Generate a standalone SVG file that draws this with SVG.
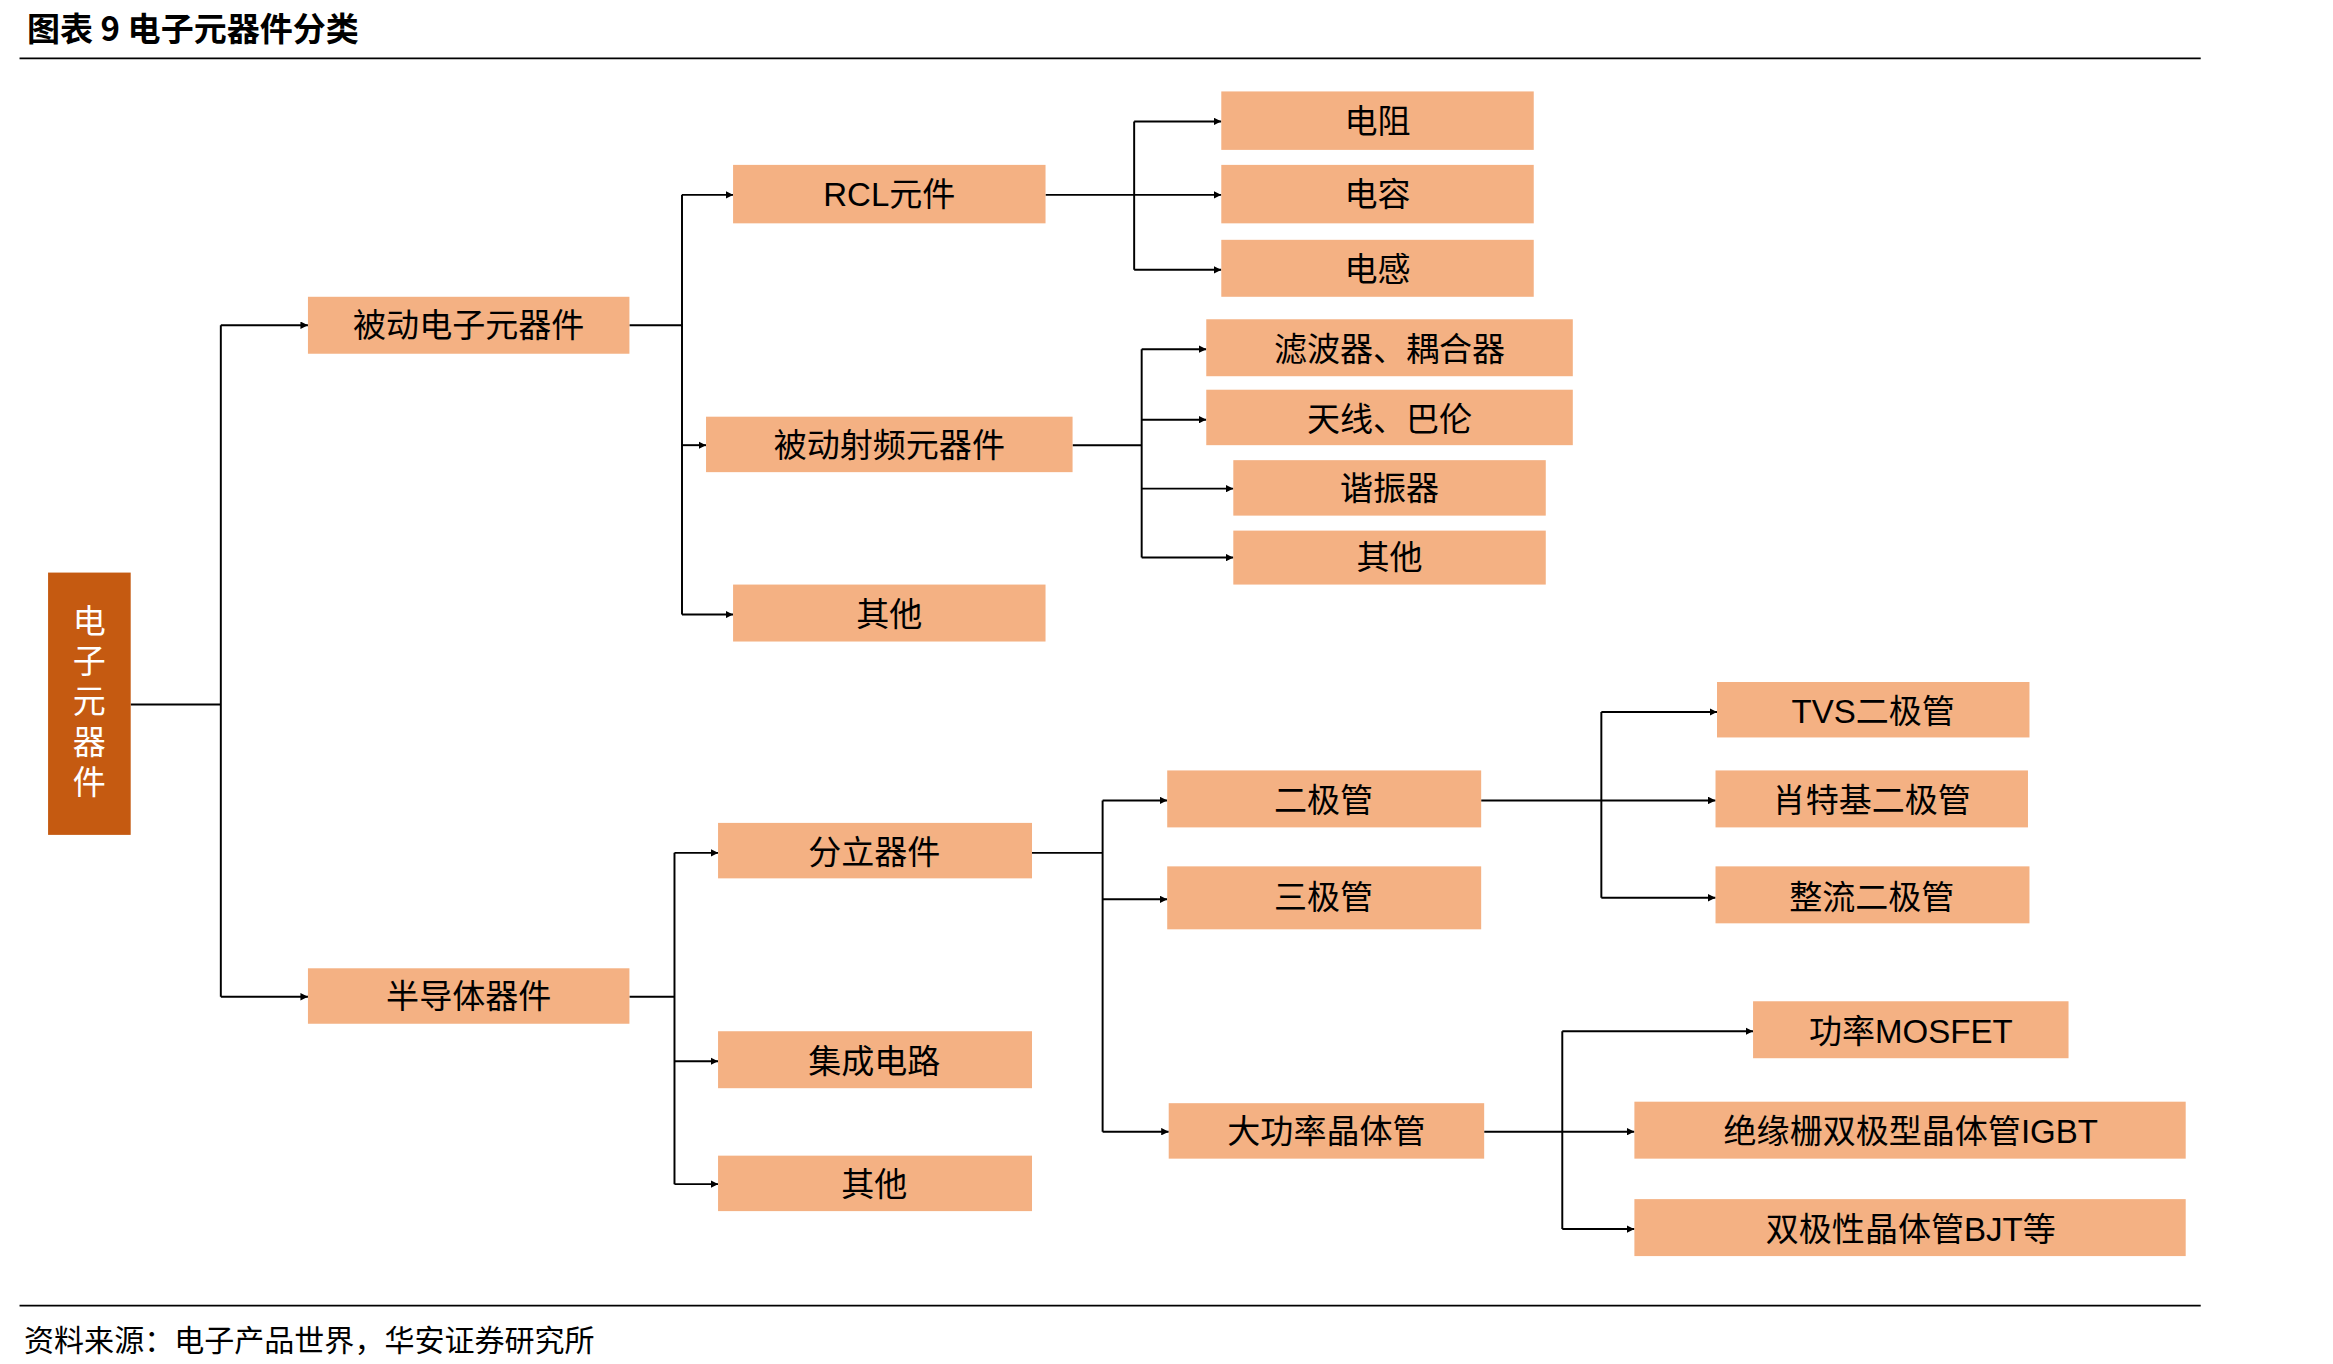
<svg xmlns="http://www.w3.org/2000/svg" width="2333" height="1364" viewBox="0 0 2333 1364">
<style>
.b{fill:#F4B183}
.t{font-family:"Liberation Sans","Noto Sans CJK SC",sans-serif;font-size:22px;fill:#000;text-anchor:middle;dominant-baseline:central}
.c{fill:none;stroke:#000;stroke-width:1.3}
</style>
<defs><marker id="a" viewBox="0 0 10 10" refX="10" refY="5" markerWidth="5" markerHeight="5" orient="auto" markerUnits="userSpaceOnUse"><path d="M0,0L10,5L0,10z" fill="#000"/></marker></defs>
<rect width="2333" height="1364" fill="#fff"/>
<g transform="scale(1.5022,1.4989)">
<text x="18" y="18" style="font-family:'Noto Sans CJK SC',sans-serif;font-size:22px;font-weight:bold" dominant-baseline="central">图表 9 电子元器件分类</text>
<line x1="13" y1="39" x2="1465" y2="39" stroke="#000" stroke-width="1.2"/>
<line x1="13" y1="871" x2="1465" y2="871" stroke="#000" stroke-width="1.2"/>
<text x="16" y="893" style="font-family:'Noto Sans CJK SC',sans-serif;font-size:20px" dominant-baseline="central">资料来源：电子产品世界，华安证券研究所</text>
<g id="connectors">
<path class="c" d="M87,470H147M147,217V665"/>
<path class="c" d="M147,217H205" marker-end="url(#a)"/><path class="c" d="M147,665H205" marker-end="url(#a)"/>
<path class="c" d="M419,217H454M454,130V410"/>
<path class="c" d="M454,130H488" marker-end="url(#a)"/><path class="c" d="M454,297H470" marker-end="url(#a)"/><path class="c" d="M454,410H488" marker-end="url(#a)"/>
<path class="c" d="M696,130H755M755,81V180"/>
<path class="c" d="M755,81H813" marker-end="url(#a)"/><path class="c" d="M755,130H813" marker-end="url(#a)"/><path class="c" d="M755,180H813" marker-end="url(#a)"/>
<path class="c" d="M714,297H760M760,233V372" stroke-width="2"/>
<path class="c" d="M760,233H803" marker-end="url(#a)"/><path class="c" d="M760,280H803" marker-end="url(#a)"/><path class="c" d="M760,326H821" marker-end="url(#a)"/><path class="c" d="M760,372H821" marker-end="url(#a)"/>
<path class="c" d="M419,665H449M449,569V790"/>
<path class="c" d="M449,569H478" marker-end="url(#a)"/><path class="c" d="M449,708H478" marker-end="url(#a)"/><path class="c" d="M449,790H478" marker-end="url(#a)"/>
<path class="c" d="M687,569H734M734,534V755"/>
<path class="c" d="M734,534H777" marker-end="url(#a)"/><path class="c" d="M734,600H777" marker-end="url(#a)"/><path class="c" d="M734,755H778" marker-end="url(#a)"/>
<path class="c" d="M986,534H1066M1066,475V599"/>
<path class="c" d="M1066,475H1143" marker-end="url(#a)"/><path class="c" d="M1066,534H1142" marker-end="url(#a)"/><path class="c" d="M1066,599H1142" marker-end="url(#a)"/>
<path class="c" d="M988,755H1040M1040,688V820"/>
<path class="c" d="M1040,688H1167" marker-end="url(#a)"/><path class="c" d="M1040,755H1088" marker-end="url(#a)"/><path class="c" d="M1040,820H1088" marker-end="url(#a)"/>
</g>
<g id="root"><rect x="32" y="382" width="55" height="175" fill="#C55A11"/>
<text class="t" style="fill:#fff"><tspan x="59.5" y="414">电</tspan><tspan x="59.5" y="441">子</tspan><tspan x="59.5" y="468">元</tspan><tspan x="59.5" y="495">器</tspan><tspan x="59.5" y="522">件</tspan></text></g>
<g id="n1"><rect class="b" x="205" y="198" width="214" height="38"/><text class="t" x="312" y="217">被动电子元器件</text></g>
<g id="n2"><rect class="b" x="205" y="646" width="214" height="37"/><text class="t" x="312" y="665">半导体器件</text></g>
<g id="n3"><rect class="b" x="488" y="110" width="208" height="39"/><text class="t" x="592" y="130">RCL元件</text></g>
<g id="n4"><rect class="b" x="470" y="278" width="244" height="37"/><text class="t" x="592" y="297">被动射频元器件</text></g>
<g id="n5"><rect class="b" x="488" y="390" width="208" height="38"/><text class="t" x="592" y="410">其他</text></g>
<g id="n6"><rect class="b" x="478" y="549" width="209" height="37"/><text class="t" x="582" y="569">分立器件</text></g>
<g id="n7"><rect class="b" x="478" y="688" width="209" height="38"/><text class="t" x="582" y="708">集成电路</text></g>
<g id="n8"><rect class="b" x="478" y="771" width="209" height="37"/><text class="t" x="582" y="790">其他</text></g>
<g id="n9"><rect class="b" x="813" y="61" width="208" height="39"/><text class="t" x="917" y="81">电阻</text></g>
<g id="n10"><rect class="b" x="813" y="110" width="208" height="39"/><text class="t" x="917" y="130">电容</text></g>
<g id="n11"><rect class="b" x="813" y="160" width="208" height="38"/><text class="t" x="917" y="180">电感</text></g>
<g id="n12"><rect class="b" x="803" y="213" width="244" height="38"/><text class="t" x="925" y="233">滤波器、耦合器</text></g>
<g id="n13"><rect class="b" x="803" y="260" width="244" height="37"/><text class="t" x="925" y="280">天线、巴伦</text></g>
<g id="n14"><rect class="b" x="821" y="307" width="208" height="37"/><text class="t" x="925" y="326">谐振器</text></g>
<g id="n15"><rect class="b" x="821" y="354" width="208" height="36"/><text class="t" x="925" y="372">其他</text></g>
<g id="n16"><rect class="b" x="777" y="514" width="209" height="38"/><text class="t" x="881" y="534">二极管</text></g>
<g id="n17"><rect class="b" x="777" y="578" width="209" height="42"/><text class="t" x="881" y="599">三极管</text></g>
<g id="n18"><rect class="b" x="778" y="736" width="210" height="37"/><text class="t" x="883" y="755">大功率晶体管</text></g>
<g id="n19"><rect class="b" x="1143" y="455" width="208" height="37"/><text class="t" x="1247" y="475">TVS二极管</text></g>
<g id="n20"><rect class="b" x="1142" y="514" width="208" height="38"/><text class="t" x="1246" y="534">肖特基二极管</text></g>
<g id="n21"><rect class="b" x="1142" y="578" width="209" height="38"/><text class="t" x="1246" y="599">整流二极管</text></g>
<g id="n22"><rect class="b" x="1167" y="668" width="210" height="38"/><text class="t" x="1272" y="688">功率MOSFET</text></g>
<g id="n23"><rect class="b" x="1088" y="735" width="367" height="38"/><text class="t" x="1272" y="755">绝缘栅双极型晶体管IGBT</text></g>
<g id="n24"><rect class="b" x="1088" y="800" width="367" height="38"/><text class="t" x="1272" y="820">双极性晶体管BJT等</text></g>
</g>
</svg>
